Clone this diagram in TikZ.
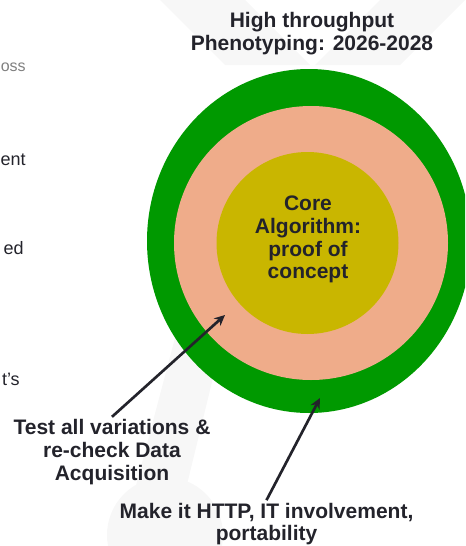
\documentclass[tikz,border=0pt]{standalone}
\usepackage{fontspec}
\setmainfont{Liberation Sans}
\usetikzlibrary{arrows.meta}

\definecolor{ringgreen}{HTML}{009900}
\definecolor{ringsalmon}{HTML}{EFAC8A}
\definecolor{coreyellow}{HTML}{C9B600}
\definecolor{inkdark}{HTML}{23232B}
\definecolor{fadegrey}{HTML}{F7F7F7}

\begin{document}
\begin{tikzpicture}[x=0.75pt,y=-0.75pt,>={Stealth[length=8pt,width=7.5pt]},
    label text/.style={font=\bfseries\fontsize{15.75pt}{17pt}\selectfont,text=inkdark,align=center,inner sep=2pt},
    side text/.style={font=\fontsize{13.5pt}{16pt}\selectfont,text=inkdark,anchor=base east,inner sep=0pt},
    pointer/.style={->,line width=2pt,draw=inkdark}]

  \useasboundingbox (0,0) rectangle (465,546);
  \clip (0,0) rectangle (465,546);

  % faint backdrop
  \fill[fadegrey] (160,0) -- (245,0) -- (310,65) -- (225,65) -- cycle;
  \fill[fadegrey] (380,0) -- (465,0) -- (400,65) -- (315,65) -- cycle;
  \fill[fadegrey] (120,546) -- (172,546) -- (232,300) -- (185,300) -- cycle;
  \fill[fadegrey] (165,535) circle [radius=58];

  % rings
  \fill[ringgreen] (309,241) ellipse [x radius=162, y radius=172];
  \fill[ringsalmon] (311,243) circle [radius=137];
  \fill[coreyellow] (307.5,243) circle [radius=91];

  \node[label text] (title) at (312,33.7) {High throughput\\Phenotyping: 2026-2028};
  \node[label text,inner sep=0pt] (core) at (308,239.7) {Core\\Algorithm:\\proof of\\concept};
  \node[label text] (test) at (112,452.2) {Test all variations \&\\re-check Data\\Acquisition};
  \node[label text] (make) at (266.5,524.2) {Make it HTTP, IT involvement,\\portability};

  % short texts at the left edge
  \node[side text,text=gray,font=\fontsize{12pt}{14pt}\selectfont] (frag1) at (26,71) {oss};
  \node[side text] (frag2) at (26,165) {ent};
  \node[side text] (frag3) at (24,254) {ed};
  \node[side text] (frag4) at (20,385) {t’s};

  \coordinate (tip1) at (225,315);
  \coordinate (tip2) at (320,398);
  \draw[pointer] (test.north) -- (tip1);
  \draw[pointer] (make.north) -- (tip2);
\end{tikzpicture}
\end{document}
